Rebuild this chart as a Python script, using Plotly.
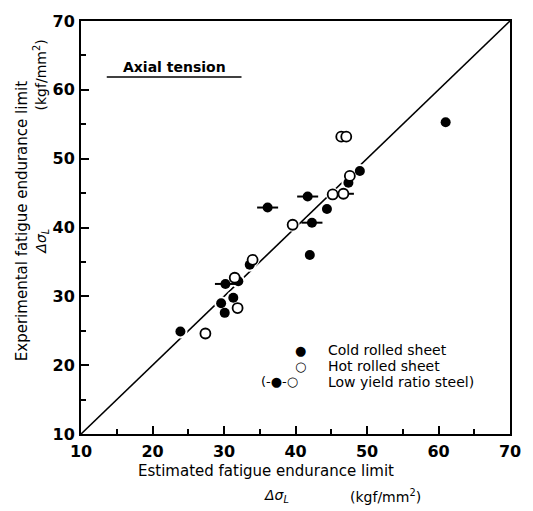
import plotly.graph_objects as go

# ---- data ----
cold_x = [23.9, 29.6, 30.1, 31.3, 32.0, 33.6, 42.0, 44.4, 47.4, 49.0, 61.0]
cold_y = [24.9, 29.0, 27.6, 29.8, 32.2, 34.6, 36.0, 42.7, 46.5, 48.2, 55.3]
hot_x = [27.4, 31.9, 31.5, 34.0, 39.6, 45.2, 46.4, 47.1, 47.6]
hot_y = [24.6, 28.3, 32.7, 35.3, 40.4, 44.8, 53.2, 53.2, 47.5]
lyr_fill_x = [30.2, 36.1, 41.7, 42.3]
lyr_fill_y = [31.8, 42.9, 44.5, 40.7]
lyr_open_x = [46.7]
lyr_open_y = [44.9]
diag = [10, 70]
tick_vals = [10, 20, 30, 40, 50, 60, 70]
tick_text = ["10", "20", "30", "40", "50", "60", "70"]

# plot-area pixel geometry
W, H = 533, 511
X0, X1, Y0, Y1 = 81, 514, 14, 434


def px(x):
    return (x - X0) / (X1 - X0)


def py(y):
    return (Y1 - y) / (Y1 - Y0)


FONT = "DejaVu Sans"
fig = go.Figure()

fig.add_trace(go.Scatter(x=diag, y=diag, mode="lines",
                         line=dict(color="black", width=1.6),
                         hoverinfo="skip", showlegend=False))

all_x = cold_x + hot_x + lyr_fill_x + lyr_open_x
all_y = cold_y + hot_y + lyr_fill_y + lyr_open_y
fig.add_trace(go.Scatter(x=all_x, y=all_y, mode="markers",
                         marker=dict(symbol="circle", size=14, color="white"),
                         hoverinfo="skip", showlegend=False))

# low yield bars
fig.add_trace(go.Scatter(x=lyr_fill_x + lyr_open_x, y=lyr_fill_y + lyr_open_y,
                         mode="markers",
                         marker=dict(symbol="line-ew", size=15,
                                     line=dict(color="black", width=2)),
                         showlegend=False))

fig.add_trace(go.Scatter(x=cold_x + lyr_fill_x, y=cold_y + lyr_fill_y, mode="markers",
                         name="Cold rolled sheet",
                         marker=dict(symbol="circle", size=10, color="black",
                                     line=dict(width=0)),
                         showlegend=False))
fig.add_trace(go.Scatter(x=hot_x + lyr_open_x, y=hot_y + lyr_open_y, mode="markers",
                         name="Hot rolled sheet",
                         marker=dict(symbol="circle", size=10, color="white",
                                     line=dict(color="black", width=1.8)),
                         showlegend=False))

axis_common = dict(range=[10, 70], tickmode="array", tickvals=tick_vals,
                   ticktext=["<b>%s</b>" % t for t in tick_text],
                   ticks="inside", ticklen=8,
                   tickwidth=1.5, tickcolor="black",
                   minor=dict(dtick=5, tick0=10, ticks="inside", ticklen=5, tickwidth=1.5,
                              tickcolor="black"),
                   showline=True, linewidth=2, linecolor="black", mirror=True,
                   showgrid=False, zeroline=False,
                   tickfont=dict(family="DejaVu Sans", size=16, color="black"))
fig.update_xaxes(ticklabelstandoff=2, **axis_common)
fig.update_yaxes(ticklabelstandoff=1, **axis_common)

tf = dict(family=FONT, size=14, color="black")
ann = []
ann.append(dict(text="Experimental fatigue endurance limit", x=px(21), y=py(218),
                textangle=-90, font=dict(family=FONT, size=15, color="black")))
ann.append(dict(text="(kgf/mm<sup>2</sup>)", x=px(40), y=py(69), textangle=-90,
                font=tf))
ann.append(dict(text="<i>Δσ<sub>L</sub></i>", x=px(42), y=py(238), textangle=-90,
                font=dict(family=FONT, size=14, color="black")))
ann.append(dict(text="Estimated fatigue endurance limit", x=px(268), y=py(472),
                font=dict(family=FONT, size=15, color="black")))
ann.append(dict(text="<i>Δσ<sub>L</sub></i>", x=px(278), y=py(497),
                font=dict(family=FONT, size=14, color="black")))
ann.append(dict(text="(kgf/mm<sup>2</sup>)", x=px(388), y=py(497), font=tf))
ann.append(dict(text="Axial tension", x=px(175), y=py(61),
                font=dict(family=FONT, size=14, color="black", weight=600)))
# legend
ann.append(dict(text="●", x=px(303), y=py(349), font=dict(family=FONT, size=13, color="black")))
ann.append(dict(text="Cold rolled sheet", x=px(328), y=py(349), xanchor="left", font=tf))
ann.append(dict(text="○", x=px(303), y=py(365), font=dict(family=FONT, size=13, color="black")))
ann.append(dict(text="Hot rolled sheet", x=px(328), y=py(365), xanchor="left", font=tf))
ann.append(dict(text="(-●-○", x=px(261), y=py(381), xanchor="left",
                font=dict(family=FONT, size=13, color="black")))
ann.append(dict(text="Low yield ratio steel)", x=px(328), y=py(381), xanchor="left", font=tf))

for a in ann:
    a.setdefault("xanchor", "center")
    a.update(xref="paper", yref="paper", yanchor="middle", showarrow=False)
fig.update_layout(annotations=ann)

fig.add_shape(type="line", xref="paper", yref="paper",
              x0=px(107), x1=px(243), y0=py(71), y1=py(71),
              line=dict(color="black", width=1.5))

fig.update_layout(width=W, height=H, plot_bgcolor="white", paper_bgcolor="white",
                  margin=dict(l=X0, r=W - X1, t=Y0, b=H - Y1),
                  showlegend=False)

fig.write_html("out.html")
